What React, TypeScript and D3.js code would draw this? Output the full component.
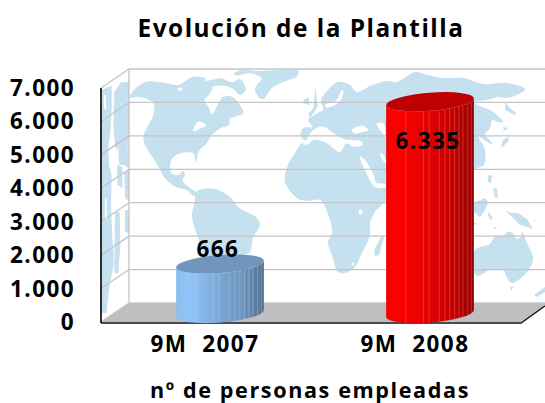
import React from "react";
import * as d3 from "d3";

const categories = ["9M  2007", "9M  2008"];
const plottedValues = [1480, 6335];
const valueLabels = ["666", "6.335"];
const tickValues = [0, 1000, 2000, 3000, 4000, 5000, 6000, 7000];
const tickLabels = ["0", "1.000", "2.000", "3.000", "4.000", "5.000", "6.000", "7.000"];
const title = "Evolución de la Plantilla";
const axisTitle = "nº de personas empleadas";
const facetStops = [0.225, 0.425, 0.49, 0.605, 0.67, 0.725, 0.78, 0.83, 0.875, 0.93, 0.97];

type P = [number, number];
const zp = (ox: number, oy: number, pts: number[][]): P[] => pts.map(([x, y]) => [ox + x / 3, oy + y / 3] as P);

const land: P[][] = [
  // North + Central America
  zp(125, 65, [[14,98],[28,74],[65,50],[110,52],[160,60],[185,45],[205,35],[240,40],[240,62],[262,64],[256,84],[238,106],[250,125],[262,148],[275,125],[295,95],[320,95],[345,120],[355,145],[330,155],[315,160],[312,180],[290,188],[265,205],[245,235],[222,258],[212,290],[205,265],[185,262],[150,272],[137,290],[140,325],[160,330],[175,318],[180,330],[172,345],[190,365],[212,382],[205,392],[185,375],[150,365],[120,340],[105,315],[85,280],[60,240],[55,215],[70,180],[85,150],[85,115],[60,100],[30,96]]),
  // Arctic islands
  zp(125, 65, [[240,50],[262,45],[290,40],[320,52],[345,42],[362,75],[345,90],[325,72],[300,62],[262,64],[240,66]]),
  // Greenland
  zp(125, 65, [[400,18],[520,18],[515,35],[490,45],[440,70],[415,102],[400,95],[390,70],[410,40],[375,25],[345,30],[325,30],[345,16]]),
  // Iceland
  zp(275, 65, [[85,105],[100,97],[105,120],[85,115]]),
  // Britain
  zp(275, 65, [[122,60],[125,100],[128,125],[105,160],[100,145],[115,130]]),
  // South America
  [[195,193],[202,189],[215,189],[230,197],[238,207],[257,218],[260,225],[253,238],[250,252],[240,257],[238,266],[210,266],[198,237],[192,217],[195,200]],
  // Eurasia
  [[301,137],[303,128],[312,127],[310,123],[308,120],[318,113],[323,110],[321,100],[328,90],[338,82],[350,85],[357,92],[372,85],[387,81],[397,82],[415,72],[428,75],[443,78],[463,78],[483,84],[507,83],[525,89],[517,95],[505,98],[498,97],[487,100],[474,102],[480,106],[490,110],[497,115],[503,122],[498,122],[492,120],[490,128],[485,135],[490,140],[492,144],[484,140],[478,135],[480,140],[485,150],[484,165],[477,168],[474,170],[380,200],[370,150],[320,145]],
  // Africa
  [[302,143],[295,153],[288,165],[285,182],[297,198],[308,201],[320,200],[325,207],[330,220],[332,233],[328,242],[333,258],[338,272],[345,273],[355,267],[362,253],[370,235],[370,223],[375,212],[385,200],[390,150],[340,135]],
  // Islands
  [[382,235],[384,237],[379,255],[375,256],[374,250]],
  [[505,102],[510,108],[516,113],[515,115],[505,110]],
  [[503,127],[508,128],[504,131]],
  [[508,137],[509,140],[503,147],[501,146],[503,140]],
  [[488,175],[492,176],[491,183],[488,182]],
  [[493,188],[497,189],[498,198],[495,198]],
  [[474,203],[485,198],[488,202],[485,210],[480,217],[474,212]],
  [[488,212],[493,218],[490,220],[488,215]],
  [[473,222],[480,225],[473,224]],
  [[493,227],[497,227],[495,229]],
  [[506,211],[512,213],[518,213],[527,219],[533,229],[527,227],[520,225],[515,220]],
  [[533,220],[536,220],[535,221]],
  // Australia, Tasmania, New Zealand
  [[475,250],[490,244],[495,236],[503,236],[507,232],[513,233],[515,238],[520,238],[522,232],[527,243],[533,258],[530,268],[522,277],[512,283],[507,278],[503,270],[490,270],[478,276],[474,273]],
  [[510,287],[514,286],[511,291]],
  [[545,287],[545,292],[537,297],[534,295]],
];

const seas: P[][] = [
  // Mediterranean
  zp(275, 65, [[115,195],[145,185],[170,200],[185,210],[205,222],[260,230],[262,240],[235,245],[215,235],[195,262],[175,250],[150,232],[115,225],[100,237],[84,238],[95,222]]),
  // Black Sea
  zp(275, 65, [[230,195],[262,182],[280,195],[265,200],[240,205]]),
  // Caspian
  zp(275, 65, [[305,175],[325,175],[330,210],[315,195]]),
  // Red Sea
  zp(275, 65, [[255,275],[270,285],[300,345],[290,345],[265,305]]),
  // Persian Gulf
  zp(275, 65, [[315,265],[322,265],[334,295],[326,290]]),
  // Gulf of Aden
  zp(275, 170, [[275,5],[285,5],[305,38],[332,42],[332,52],[300,50]]),
  // Great Lakes
  zp(125, 65, [[205,197],[220,170],[245,182],[225,190],[212,199]]),
  // Baja California
  zp(125, 65, [[68,258],[85,298],[78,296],[68,270]]),
  // Baltic
  zp(275, 65, [[200,75],[205,80],[192,112],[155,128],[150,120],[185,105]]),
  // Northern lakes
  zp(125, 65, [[158,70],[172,68],[170,76],[158,76]]),
  // African lake and Lesotho
  [[359,210],[362,210],[362,214],[359,214]],
  [[352,263],[354,263],[354,265],[352,265]],
];

const wallPatches: P[][] = [
  zp(95, 65, [[18,75],[50,62],[50,130],[46,200],[40,250],[42,300],[50,330],[48,420],[52,520],[56,560],[56,600],[44,660],[34,745],[18,745]]),
  zp(95, 65, [[58,80],[78,52],[102,50],[103,110],[103,200],[98,240],[100,310],[88,300],[74,300],[60,240],[55,180]]),
  zp(95, 65, [[66,300],[82,305],[82,370],[68,360]]),
  zp(95, 65, [[88,320],[103,315],[103,410],[90,400]]),
  zp(95, 65, [[90,435],[103,435],[103,505],[90,500]]),
  zp(95, 65, [[60,440],[74,440],[76,540],[70,625],[58,625]]),
];
const wallGaps: P[][] = [
  zp(95, 65, [[26,90],[32,90],[34,135],[28,132]]),
  zp(95, 65, [[30,400],[35,400],[35,465],[30,465]]),
  zp(95, 65, [[64,250],[70,250],[72,290],[66,285]]),
];

const closed = d3.line<P>().curve(d3.curveLinearClosed);
const smooth = d3.line<P>().curve(d3.curveCatmullRomClosed.alpha(0.5));

const y = d3.scaleLinear().domain([0, 7000]).range([322, 88]);
const xBar = d3.scaleOrdinal<string, number>().domain(categories).range([220, 430]);
const xLabel = d3.scaleOrdinal<string, number>().domain(categories).range([205, 415]);

const wallX0 = 101, wallX1 = 129, right = 545, floorRight = 521, depth = 19;
const rx = 44, ry = 9, tilt = 4.6, baseY = 313.5;
const font = "'Open Sans', 'Noto Sans', sans-serif";
const gridColor = "#c4c4c4";

const palettes = [
  { stops: ["#8dbdec", "#93c5fb", "#7ba6d4", "#6f95bd", "#4f6f8f"], top: "#7096bd", line: "#b9d4ef", id: "blueGrad" },
  { stops: ["#f40000", "#ff0000", "#e00000", "#c40000", "#930000"], top: "#bf0000", line: "#ff7a7a", id: "redGrad" },
];

function Cylinder({ cx, value, idx }: { cx: number; value: number; idx: number }) {
  const h = y(0) - y(value);
  const cy = baseY - h;
  const rad = (tilt * Math.PI) / 180;
  const dx = rx * Math.cos(rad), dy = rx * Math.sin(rad);
  const p = palettes[idx];
  const body = `M${cx - dx},${cy + dy} L${cx - dx},${baseY + dy} A${rx},${ry} ${-tilt} 0 0 ${cx + dx},${baseY - dy} L${cx + dx},${cy - dy} A${rx},${ry} ${-tilt} 0 1 ${cx - dx},${cy + dy} Z`;
  const clipId = `clip${idx}`;
  return (
    <g>
      <defs>
        <linearGradient id={p.id} x1="0" x2="1" y1="0" y2="0">
          {p.stops.map((s, i) => <stop key={i} offset={[0, 0.15, 0.5, 0.75, 1][i]} stopColor={s} />)}
        </linearGradient>
        <clipPath id={clipId}><path d={body} /></clipPath>
      </defs>
      <path d={body} fill={`url(#${p.id})`} />
      <g clipPath={`url(#${clipId})`}>
        {facetStops.map((f, i) => {
          const x = cx - dx + f * 2 * dx;
          return <line key={i} x1={x} x2={x} y1={cy - ry - 4} y2={baseY + ry + 6} stroke={p.line} strokeWidth={1} opacity={0.4} />;
        })}
      </g>
      <ellipse cx={cx} cy={cy} rx={rx} ry={ry} transform={`rotate(${-tilt} ${cx} ${cy})`} fill={p.top} />
    </g>
  );
}

export default function App() {
  return (
    <svg width={545} height={403} style={{ position: "absolute", left: 0, top: 0, background: "#fff" }} fontFamily={font} fontWeight={700}>
      <defs>
        <clipPath id="backWall"><rect x={wallX1} y={69} width={right - wallX1} height={234} /></clipPath>
        <clipPath id="sideWall"><polygon points={`${wallX0},88 ${wallX1},69 ${wallX1},303 ${wallX0},322`} /></clipPath>
        <filter id="soft"><feGaussianBlur stdDeviation="0.4" /></filter>
      </defs>

      <g clipPath="url(#sideWall)" filter="url(#soft)">
        {wallPatches.map((d, i) => <path key={i} d={closed(d) ?? ""} fill="#c5e0ee" />)}
        {wallGaps.map((d, i) => <path key={i} d={closed(d) ?? ""} fill="#fff" />)}
      </g>
      <g clipPath="url(#backWall)">
        <g filter="url(#soft)">
          {land.map((d, i) => <path key={i} d={(d.length > 8 ? smooth(d) : closed(d)) ?? ""} fill="#c5e0ee" />)}
          {seas.map((d, i) => <path key={i} d={smooth(d) ?? ""} fill="#fff" />)}
        </g>
      </g>

      {/* floor */}
      <polygon points={`${wallX0},${y(0)} ${wallX1},${y(0) - depth} ${right},${y(0) - depth} ${right},${y(0) - depth + 3} ${floorRight},${y(0)}`} fill="#bfbfbf" />

      {/* gridlines */}
      {tickValues.map((t) => (
        <g key={t} stroke={gridColor} strokeWidth={1.3} fill="none">
          <line x1={wallX1} x2={right} y1={y(t) - depth} y2={y(t) - depth} />
          <line x1={wallX0} x2={wallX1} y1={y(t)} y2={y(t) - depth} />
        </g>
      ))}
      <line x1={wallX1} x2={wallX1} y1={69} y2={303} stroke={gridColor} strokeWidth={1.3} />

      {/* axes */}
      <line x1={wallX0} x2={wallX0} y1={y(7000)} y2={y(0) + 1} stroke="#000" strokeWidth={1.6} />
      <path d={`M${wallX0},${y(0) + 1} L${floorRight},${y(0) + 1} L${right},${y(0) - depth + 3}`} fill="none" stroke="#111" strokeWidth={1.4} />

      {/* bars */}
      {categories.map((c, i) => <Cylinder key={c} cx={xBar(c)} value={plottedValues[i]} idx={i} />)}

      {/* labels */}
      <g fontSize={22.5} letterSpacing={1.4} fill="#000">
        {tickValues.map((t, i) => (
          <text key={t} x={75} y={y(t) + 8} textAnchor="end">{tickLabels[i]}</text>
        ))}
        <text x={218} y={257} textAnchor="middle">{valueLabels[0]}</text>
        <text x={428} y={149} textAnchor="middle">{valueLabels[1]}</text>
      </g>
      <g fontSize={22.5} letterSpacing={1.5} fill="#000">
        {categories.map((c) => (
          <text key={c} x={xLabel(c)} y={352} textAnchor="middle" xmlSpace="preserve" style={{ whiteSpace: "pre" }}>{c}</text>
        ))}
      </g>
      <text x={301} y={37} textAnchor="middle" fontSize={24.4} letterSpacing={1.5} fill="#000">{title}</text>
      <text x={310} y={397.8} textAnchor="middle" fontSize={21.6} letterSpacing={1.6} fill="#000">{axisTitle}</text>
    </svg>
  );
}
